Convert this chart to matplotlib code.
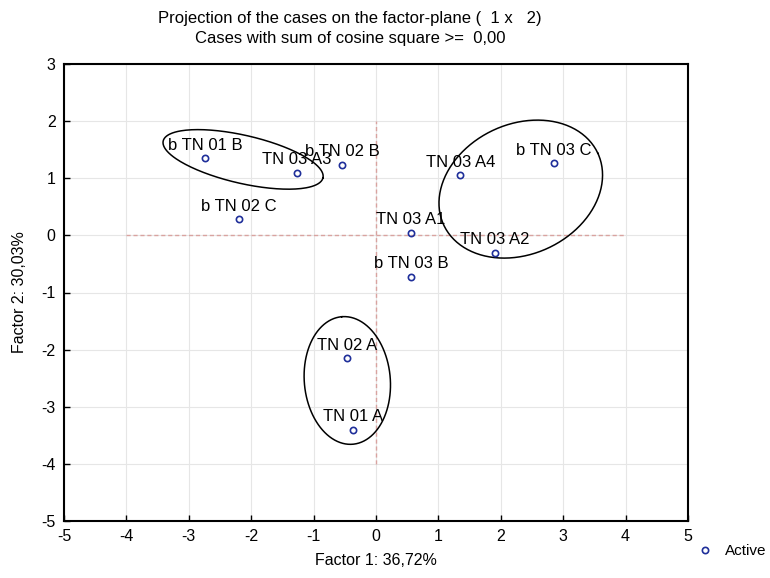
import numpy as np
import matplotlib
matplotlib.use("Agg")
import matplotlib.pyplot as plt

plt.rcParams['font.family'] = ['Liberation Sans', 'DejaVu Sans']

labels = ["b TN 01 B", "TN 03 A3", "b TN 02 B", "b TN 02 C", "TN 03 A1",
          "b TN 03 B", "TN 03 A4", "b TN 03 C", "TN 03 A2", "TN 02 A", "TN 01 A"]
factor1 = [-2.74, -1.27, -0.54, -2.20, 0.56, 0.56, 1.35, 2.85, 1.91, -0.46, -0.37]
factor2 = [1.35, 1.10, 1.24, 0.28, 0.05, -0.72, 1.05, 1.26, -0.30, -2.15, -3.40]

# group ellipses: center (data), semi-axes (px), angle (deg)
ell_cx = [-2.13, 2.32, -0.46]
ell_cy = [1.33, 0.81, -2.54]
ell_a = [82, 85, 64]
ell_b = [24, 65, 43]
ell_ang = [-13, 25, 95]

xticks = [-5, -4, -3, -2, -1, 0, 1, 2, 3, 4, 5]
yticks = [-5, -4, -3, -2, -1, 0, 1, 2, 3]

fig = plt.figure(figsize=(7.7, 5.78), dpi=100)
ax = fig.add_axes([64/770, 1-521/578, (688-64)/770, (521-64)/578])
ax.set_xlim(-5, 5)
ax.set_ylim(-5, 3)
ax.set_xticks(xticks)
ax.set_yticks(yticks)
ax.set_xticklabels([str(t) for t in xticks])
ax.set_yticklabels([str(t) for t in yticks])
ax.tick_params(direction='in', length=4, width=1, labelsize=11.5, pad=6)
for s in ax.spines.values():
    s.set_linewidth(1.5)
ax.grid(True, color='#e6e6e6', linewidth=0.8)
ax.set_axisbelow(True)

# center cross lines
ax.plot([0, 0], [-4, 2], color='#d9a3a0', linestyle=(0, (3, 2)), linewidth=1, zorder=1)
ax.plot([-4, 4], [0, 0], color='#d9a3a0', linestyle=(0, (3, 2)), linewidth=1, zorder=1)

pts, = ax.plot(factor1, factor2, linestyle='none', marker='o', markersize=4.5,
               markerfacecolor='none', markeredgecolor='#1f2f9a', markeredgewidth=1.2,
               label='Active', zorder=3)

for lab, x, y in zip(labels, factor1, factor2):
    ax.annotate(lab, (x, y), xytext=(0, 4), textcoords='offset points',
                ha='center', va='bottom', fontsize=12, color='black', zorder=4)

fig.canvas.draw()
t = np.linspace(0, 2*np.pi, 200)
for cx, cy, a, b, ang in zip(ell_cx, ell_cy, ell_a, ell_b, ell_ang):
    c = ax.transData.transform((cx, cy))
    th = np.deg2rad(ang)
    px = c[0] + a*np.cos(t)*np.cos(th) - b*np.sin(t)*np.sin(th)
    py = c[1] + a*np.cos(t)*np.sin(th) + b*np.sin(t)*np.cos(th)
    d = ax.transData.inverted().transform(np.column_stack([px, py]))
    ax.plot(d[:, 0], d[:, 1], color='black', linewidth=1.1, zorder=2)

ax.set_xlabel("Factor 1: 36,72%", fontsize=11.5, labelpad=6)
ax.set_ylabel("Factor 2: 30,03%", fontsize=11.5, labelpad=10)

fig.text(350/770, 1-18/578, "Projection of the cases on the factor-plane (  1 x   2)",
         ha='center', va='center', fontsize=12)
fig.text(350/770, 1-38/578, "Cases with sum of cosine square >=  0,00",
         ha='center', va='center', fontsize=12)

fig.legend(handles=[pts], labels=['Active'], loc='center left',
           bbox_to_anchor=(694/770, 1-551/578), frameon=False, fontsize=11,
           handletextpad=0.8, handlelength=1.0, borderpad=0.2, borderaxespad=0)

fig.savefig("out.png", dpi=100)
